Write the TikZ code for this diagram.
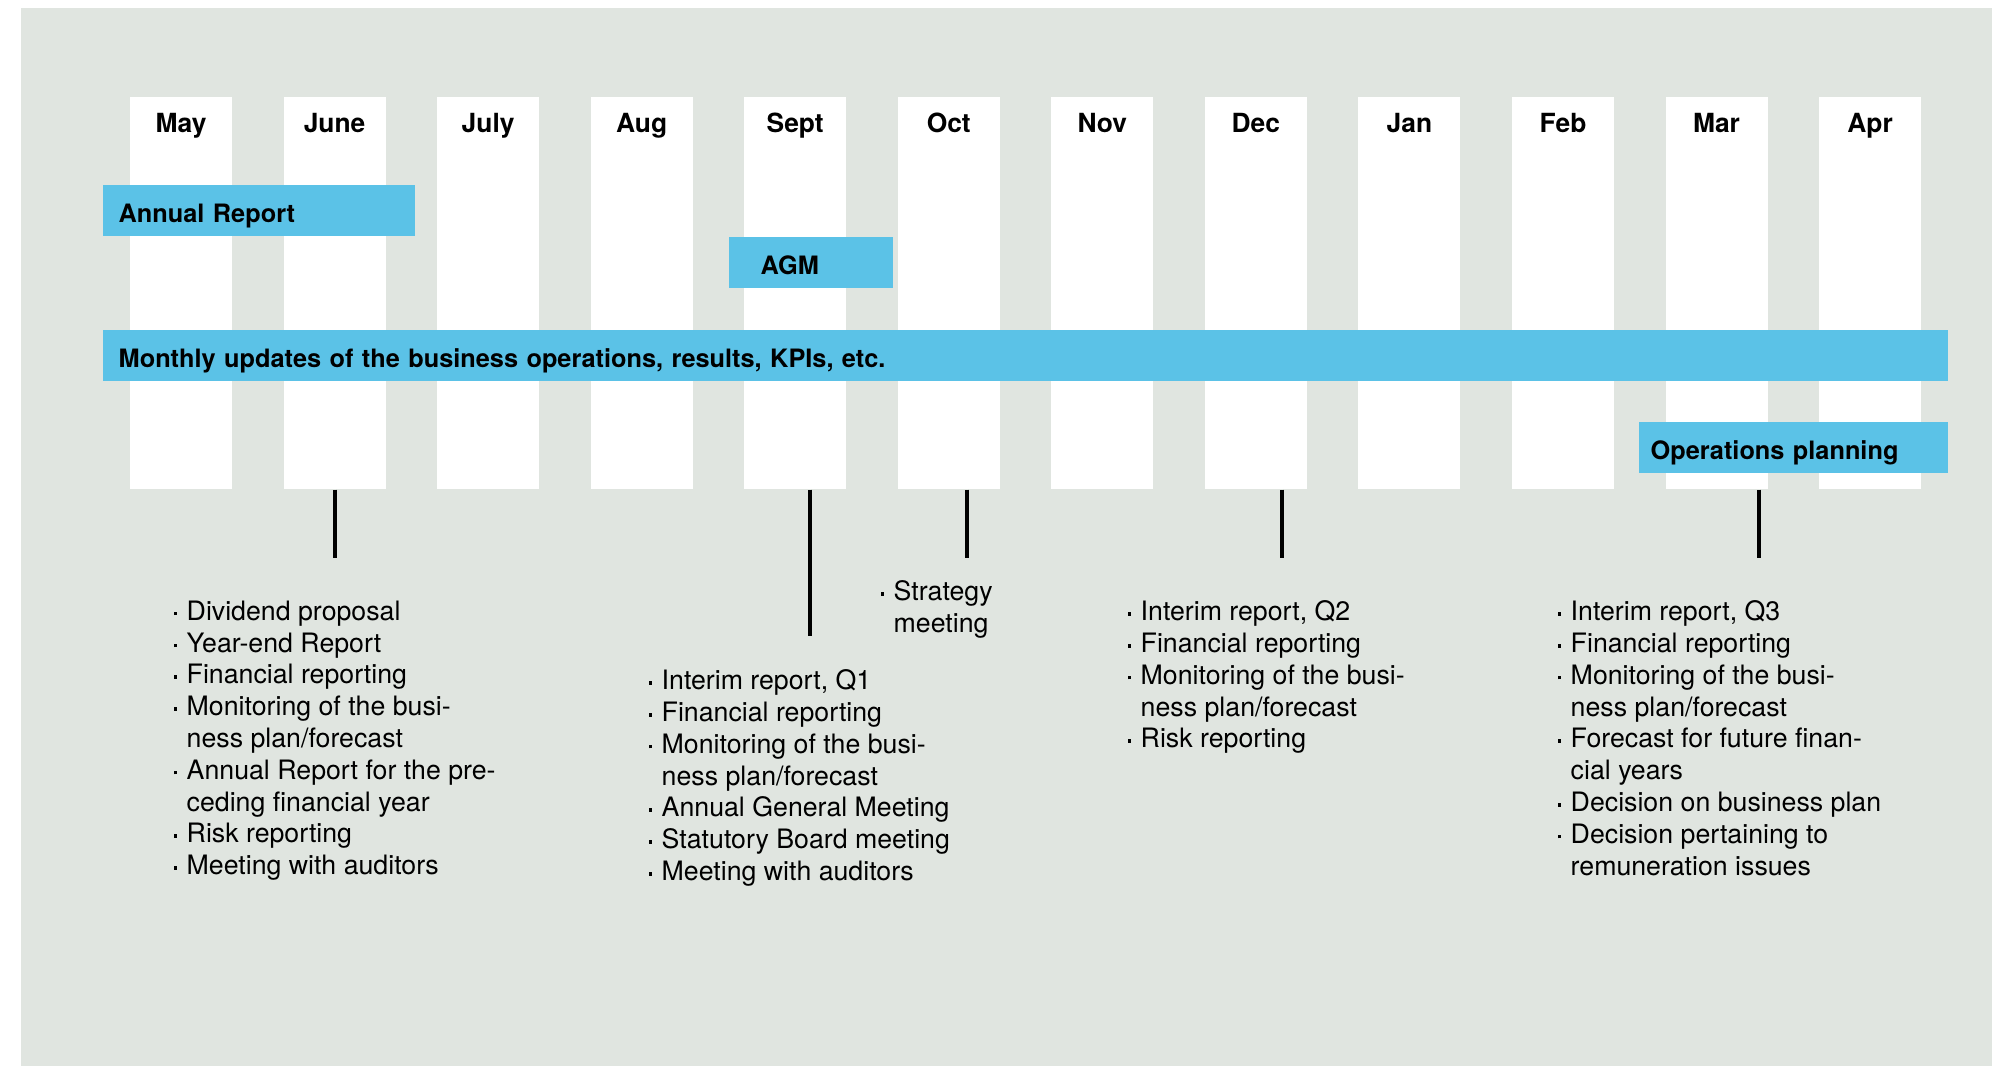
\documentclass[tikz,border=0pt]{standalone}
\usepackage{fontspec}
\setmainfont{TeX Gyre Heros}
\usetikzlibrary{positioning}

\definecolor{panelgray}{HTML}{E0E5E0}
\definecolor{barblue}{HTML}{5BC2E7}

\newcommand{\bul}{\makebox[0.13cm][l]{\rule[0.05cm]{0.035cm}{0.035cm}}}
\newcommand{\cont}{\hspace*{0.13cm}}

\begin{document}
\begin{tikzpicture}[x=0.01cm, y=-0.01cm,
    monthcol/.style={rectangle, fill=white, minimum width=1.02cm, minimum height=3.92cm, anchor=north, inner sep=0pt},
    monthname/.style={font=\fontsize{7.5}{9}\selectfont\bfseries},
    bar/.style={rectangle, fill=barblue, anchor=north west, minimum height=0.515cm, inner xsep=0.16cm, inner ysep=0pt,
        text height=0.24cm, text depth=0pt, align=left, font=\fontsize{7.2}{9}\selectfont\bfseries},
    tick/.style={line width=0.95pt},
    duties/.style={anchor=north west, inner sep=0pt, align=left, font=\fontsize{7.6}{9.05}\selectfont}]
                \useasboundingbox (0,0) rectangle (1992,1066);
                \fill[panelgray] (21,8) rectangle (1992,1066);
                \foreach \m [count=\i from 0] in {May,June,July,Aug,Sept,Oct,Nov,Dec,Jan,Feb,Mar,Apr}
                    \node[monthcol,
                    label={[monthname, anchor=base, yshift=-0.365cm]north:\m}] (m\i) at (181+\i*153.55,96) {};
                \node[bar, minimum width=3.12cm, text width=2.80cm] (annual) at (102,184) {Annual Report};
                \node[bar, minimum width=1.64cm, inner xsep=0.32cm, text width=1.00cm] (agm) at (728,236) {AGM};
                \node[bar, minimum width=18.44cm, text width=18.12cm] (monthly) at (102,329) {Monthly updates of the business operations, results, KPIs, etc.};
                \node[bar, minimum width=3.09cm, inner xsep=0.12cm, text width=2.85cm] (ops) at (1638,421) {Operations planning};
                \coordinate (eJune) at (335,558);
                \coordinate (eSept) at (810,636);
                \coordinate (eOct) at (967,558);
                \coordinate (eDec) at (1282,558);
                \coordinate (eMar) at (1759,558);
                \draw[tick] (m1.south -| eJune) -- (eJune);
                \draw[tick] (m4.south -| eSept) -- (eSept);
                \draw[tick] (m5.south -| eOct) -- (eOct);
                \draw[tick] (m7.south -| eDec) -- (eDec);
                \draw[tick] (m10.south -| eMar) -- (eMar);
                \node[duties] (dJune) at (173,600) {\bul Dividend proposal\\ \bul Year-end Report\\ \bul Financial reporting\\
                    \bul Monitoring of the busi-\\ \cont ness plan/forecast\\ \bul Annual Report for the pre-\\ \cont ceding financial year\\
                    \bul Risk reporting\\ \bul Meeting with auditors};
                \node[duties] (dSept) at (648,669) {\bul Interim report, Q1\\ \bul Financial reporting\\ \bul Monitoring of the busi-\\
                    \cont ness plan/forecast\\ \bul Annual General Meeting\\ \bul Statutory Board meeting\\ \bul Meeting with auditors};
                \node[duties] (dOct) at (880,580) {\bul Strategy\\ \cont meeting};
                \node[duties] (dDec) at (1127,600) {\bul Interim report, Q2\\ \bul Financial reporting\\ \bul Monitoring of the busi-\\
                    \cont ness plan/forecast\\ \bul Risk reporting};
                \node[duties] (dMar) at (1557,600) {\bul Interim report, Q3\\ \bul Financial reporting\\ \bul Monitoring of the busi-\\
                    \cont ness plan/forecast\\ \bul Forecast for future finan-\\ \cont cial years\\ \bul Decision on business plan\\
                    \bul Decision pertaining to\\ \cont remuneration issues};
            \end{tikzpicture}
\end{document}
